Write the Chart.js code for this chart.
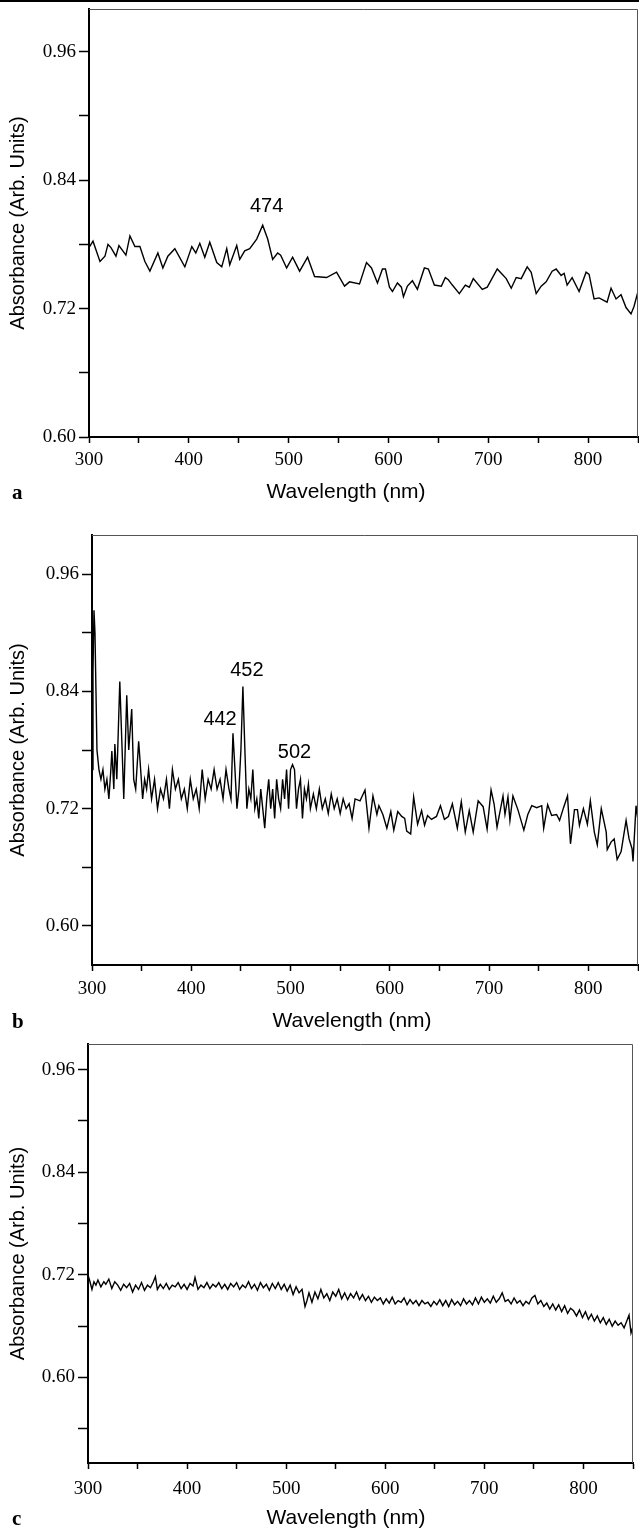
<!DOCTYPE html>
<html>
<head>
<meta charset="utf-8">
<script src="https://cdn.jsdelivr.net/npm/chart.js@4.4.1/dist/chart.umd.min.js"></script>
<style>
  body { margin: 0; background: #fff; }
  #page { position: relative; width: 639px; height: 1537px; overflow: hidden; }
  #rule { position: absolute; left: 0; top: 0; width: 639px; height: 2px; background: #000; }
  canvas { position: absolute; left: 0; }
</style>
</head>
<body>
<div id="page">
  <div id="rule"></div>
  <canvas id="chartA"></canvas>
  <canvas id="chartB"></canvas>
  <canvas id="chartC"></canvas>
</div>
<script>
// Axis ticks shared by the three panels
const xTicks = [300, 350, 400, 450, 500, 550, 600, 650, 700, 750, 800, 850];
const xLabels = [300, 400, 500, 600, 700, 800];
const yTicksAB = [0.60, 0.66, 0.72, 0.78, 0.84, 0.90, 0.96];
const yTicksC = [0.54, 0.60, 0.66, 0.72, 0.78, 0.84, 0.90, 0.96];
const yLabels = [0.60, 0.72, 0.84, 0.96];

// Panel a
const aWavelength = [300, 304, 311, 316, 319, 322, 327, 330, 337, 341, 346, 351, 356, 361, 369, 374, 379, 386, 396, 403,
  407, 411, 416, 421, 428, 433, 438, 441, 448, 451, 456, 461, 468, 474, 479, 484, 489, 492, 498, 504,
  511, 519, 526, 538, 548, 556, 561, 571, 578, 583, 589, 594, 597, 601, 604, 609, 613, 615, 619, 624,
  629, 636, 640, 646, 653, 657, 660, 664, 671, 677, 681, 685, 694, 699, 709, 713, 718, 723, 728, 733,
  739, 743, 748, 753, 758, 764, 768, 773, 776, 779, 784, 791, 798, 801, 806, 811, 819, 823, 828, 833,
  838, 843, 846, 850];
const aAbsorbance = [0.777, 0.783, 0.764, 0.769, 0.780, 0.777, 0.769, 0.779, 0.770, 0.788, 0.778, 0.778, 0.764, 0.755, 0.772, 0.758, 0.769, 0.776, 0.759, 0.778,
  0.772, 0.781, 0.768, 0.782, 0.763, 0.759, 0.776, 0.761, 0.779, 0.766, 0.774, 0.776, 0.785, 0.798, 0.785, 0.766, 0.772, 0.770, 0.758, 0.768,
  0.755, 0.768, 0.750, 0.749, 0.754, 0.741, 0.745, 0.743, 0.763, 0.758, 0.744, 0.757, 0.757, 0.740, 0.736, 0.744, 0.740, 0.731, 0.741, 0.746,
  0.738, 0.758, 0.757, 0.742, 0.741, 0.749, 0.747, 0.742, 0.734, 0.742, 0.740, 0.748, 0.738, 0.740, 0.757, 0.753, 0.748, 0.739, 0.749, 0.748,
  0.759, 0.754, 0.734, 0.741, 0.745, 0.755, 0.757, 0.751, 0.753, 0.742, 0.749, 0.736, 0.754, 0.752, 0.729, 0.730, 0.726, 0.739, 0.729, 0.733,
  0.721, 0.715, 0.722, 0.736];

// Panel b
const bWavelength = [300, 301, 302, 303, 304, 305, 307, 309, 311, 313, 315, 317, 319, 320, 322, 323, 325, 328, 330, 332,
  335, 337, 340, 342, 344, 347, 349, 351, 353, 355, 357, 360, 363, 366, 369, 372, 375, 378, 381, 384,
  387, 390, 393, 396, 399, 402, 405, 408, 411, 414, 417, 420, 423, 426, 429, 432, 435, 438, 440, 442,
  444, 446, 448, 450, 452, 454, 456, 458, 460, 462, 464, 466, 468, 470, 472, 474, 476, 478, 480, 482,
  484, 486, 488, 490, 492, 494, 496, 498, 500, 502, 504, 506, 508, 510, 512, 514, 516, 518, 520, 523,
  526, 529, 532, 535, 538, 541, 544, 547, 550, 553, 556, 559, 562, 565, 570, 575, 579, 583, 587, 589,
  593, 597, 601, 604, 608, 612, 615, 617, 621, 624, 628, 632, 635, 638, 642, 647, 651, 655, 659, 663,
  668, 672, 676, 680, 684, 689, 694, 698, 702, 705, 708, 714, 716, 719, 721, 724, 729, 735, 739, 743,
  748, 753, 755, 759, 763, 768, 771, 775, 779, 782, 786, 789, 791, 795, 799, 802, 806, 809, 813, 818,
  819, 823, 826, 829, 833, 838, 841, 844, 845, 848, 850];
const bAbsorbance = [0.76, 0.86, 0.923, 0.90, 0.84, 0.78, 0.76, 0.75, 0.76, 0.74, 0.75, 0.73, 0.76, 0.779, 0.74, 0.786, 0.75, 0.85, 0.79, 0.73,
  0.836, 0.78, 0.822, 0.75, 0.74, 0.789, 0.76, 0.73, 0.75, 0.74, 0.76, 0.73, 0.75, 0.72, 0.74, 0.73, 0.75, 0.72, 0.76, 0.74,
  0.75, 0.73, 0.74, 0.72, 0.75, 0.73, 0.74, 0.72, 0.76, 0.73, 0.75, 0.74, 0.76, 0.74, 0.75, 0.73, 0.76, 0.74, 0.73, 0.797,
  0.76, 0.72, 0.74, 0.78, 0.845, 0.78, 0.72, 0.74, 0.73, 0.76, 0.72, 0.73, 0.71, 0.74, 0.72, 0.70, 0.73, 0.75, 0.72, 0.74,
  0.71, 0.75, 0.73, 0.72, 0.75, 0.73, 0.76, 0.72, 0.76, 0.765, 0.76, 0.72, 0.74, 0.75, 0.71, 0.74, 0.73, 0.745, 0.72, 0.735,
  0.72, 0.74, 0.72, 0.73, 0.715, 0.735, 0.72, 0.73, 0.715, 0.73, 0.72, 0.725, 0.71, 0.73, 0.728, 0.739, 0.700, 0.733, 0.714, 0.723,
  0.714, 0.700, 0.717, 0.698, 0.717, 0.712, 0.710, 0.697, 0.694, 0.732, 0.704, 0.718, 0.703, 0.713, 0.709, 0.712, 0.723, 0.709, 0.712, 0.725,
  0.700, 0.727, 0.696, 0.718, 0.696, 0.728, 0.722, 0.699, 0.739, 0.725, 0.701, 0.733, 0.714, 0.732, 0.708, 0.733, 0.719, 0.698, 0.714, 0.723,
  0.721, 0.723, 0.700, 0.724, 0.713, 0.714, 0.708, 0.721, 0.733, 0.684, 0.719, 0.719, 0.703, 0.720, 0.704, 0.728, 0.696, 0.683, 0.720, 0.696,
  0.678, 0.686, 0.689, 0.668, 0.676, 0.708, 0.689, 0.679, 0.666, 0.723, 0.708];

// Panel c
const cWavelength = [300, 302, 304, 306, 308, 310, 313, 316, 318, 321, 324, 327, 330, 333, 336, 339, 342, 345, 348, 351,
  354, 357, 360, 363, 366, 368, 370, 373, 376, 379, 382, 385, 388, 391, 394, 397, 400, 403, 406, 408,
  411, 414, 417, 420, 423, 426, 429, 432, 435, 438, 441, 444, 447, 450, 453, 456, 459, 462, 465, 468,
  471, 474, 477, 480, 483, 486, 489, 492, 495, 498, 501, 504, 507, 510, 513, 516, 519, 521, 523, 526,
  529, 532, 535, 538, 541, 544, 547, 550, 553, 556, 559, 562, 565, 568, 571, 574, 577, 580, 583, 586,
  589, 592, 595, 598, 601, 604, 607, 610, 613, 616, 619, 622, 625, 628, 631, 634, 637, 640, 643, 646,
  649, 652, 655, 658, 661, 664, 667, 670, 673, 676, 679, 682, 685, 688, 691, 694, 697, 700, 703, 706,
  709, 712, 715, 718, 721, 724, 727, 730, 733, 736, 739, 742, 745, 748, 751, 754, 757, 760, 763, 766,
  769, 772, 775, 778, 781, 784, 787, 790, 793, 796, 799, 802, 805, 808, 811, 814, 817, 820, 823, 826,
  829, 832, 835, 838, 841, 844, 846, 848, 850];
const cAbsorbance = [0.720, 0.712, 0.703, 0.712, 0.708, 0.714, 0.706, 0.712, 0.709, 0.715, 0.704, 0.712, 0.708, 0.702, 0.709, 0.705, 0.710, 0.700, 0.708, 0.703,
  0.711, 0.702, 0.708, 0.705, 0.712, 0.718, 0.703, 0.709, 0.704, 0.710, 0.703, 0.708, 0.706, 0.711, 0.704, 0.709, 0.703, 0.710, 0.707, 0.717,
  0.703, 0.708, 0.705, 0.711, 0.704, 0.709, 0.706, 0.711, 0.704, 0.709, 0.703, 0.710, 0.706, 0.711, 0.703, 0.708, 0.705, 0.712, 0.704, 0.709,
  0.702, 0.711, 0.705, 0.709, 0.702, 0.710, 0.704, 0.711, 0.703, 0.709, 0.701, 0.708, 0.697, 0.706, 0.699, 0.703, 0.683, 0.690, 0.699, 0.688,
  0.700, 0.692, 0.703, 0.693, 0.698, 0.690, 0.700, 0.695, 0.703, 0.692, 0.699, 0.691, 0.698, 0.693, 0.700, 0.691, 0.697, 0.690, 0.695, 0.688,
  0.694, 0.690, 0.693, 0.686, 0.692, 0.687, 0.694, 0.686, 0.690, 0.688, 0.693, 0.685, 0.691, 0.686, 0.690, 0.684, 0.690, 0.686, 0.688, 0.683,
  0.689, 0.685, 0.691, 0.684, 0.690, 0.683, 0.691, 0.685, 0.689, 0.684, 0.692, 0.686, 0.690, 0.685, 0.693, 0.686, 0.694, 0.688, 0.692, 0.687,
  0.695, 0.688, 0.692, 0.699, 0.689, 0.691, 0.686, 0.693, 0.687, 0.690, 0.684, 0.689, 0.686, 0.693, 0.696, 0.686, 0.690, 0.683, 0.687, 0.680,
  0.686, 0.679, 0.685, 0.677, 0.684, 0.675, 0.681, 0.678, 0.672, 0.679, 0.670, 0.677, 0.668, 0.674, 0.666, 0.672, 0.664, 0.670, 0.662, 0.668,
  0.660, 0.666, 0.661, 0.664, 0.658, 0.667, 0.673, 0.652, 0.660];

// Peak annotations (text, wavelength, absorbance of the label centre)
const aPeakText = ['474'];
const aPeakX = [478];
const aPeakY = [0.815];
const bPeakText = ['452', '442', '502'];
const bPeakX = [456, 429, 504];
const bPeakY = [0.861, 0.811, 0.777];

const near = (list, v) => list.some(l => Math.abs(l - v) < 1e-6);

// Draws the light top/right frame, x title, panel letter and peak labels
const panelDecor = {
  id: 'panelDecor',
  afterDraw(chart, args, o) {
    const { ctx, chartArea: a, scales: { x, y } } = chart;
    ctx.save();
    ctx.strokeStyle = '#555';
    ctx.lineWidth = 1;
    ctx.beginPath();
    ctx.moveTo(a.left, a.top + 0.5);
    ctx.lineTo(a.right - 0.5, a.top + 0.5);
    ctx.lineTo(a.right - 0.5, a.bottom);
    ctx.stroke();

    ctx.fillStyle = '#000';
    ctx.textAlign = 'center';
    ctx.textBaseline = 'middle';
    ctx.font = '21px "Liberation Sans"';
    ctx.fillText('Wavelength (nm)', o.titleX, a.bottom + o.titleDy);

    ctx.textAlign = 'left';
    ctx.font = 'bold 21px "Liberation Serif"';
    ctx.fillText(o.letter, 12, a.bottom + o.titleDy + 2);

    ctx.textAlign = 'center';
    ctx.font = '20px "Liberation Sans"';
    o.peakText.forEach((t, i) => {
      ctx.fillText(t, x.getPixelForValue(o.peakX[i]), y.getPixelForValue(o.peakY[i]));
    });
    ctx.restore();
  }
};

function buildPanel(id, wl, abs, p) {
  const canvas = document.getElementById(id);
  canvas.width = 639;
  canvas.height = p.height;
  canvas.style.top = p.top + 'px';
  const points = wl.map((w, i) => ({ x: w, y: abs[i] }));

  return new Chart(canvas, {
    type: 'line',
    data: {
      datasets: [{
        data: points,
        borderColor: '#000',
        borderWidth: 1.4,
        pointRadius: 0,
        tension: 0,
        fill: false
      }]
    },
    options: {
      responsive: false,
      animation: false,
      layout: { padding: { top: p.padTop, right: p.padRight, left: 0, bottom: 0 } },
      plugins: {
        legend: { display: false },
        tooltip: { enabled: false },
        panelDecor: {
          letter: p.letter, titleX: p.titleX, titleDy: p.titleDy,
          peakText: p.peakText, peakX: p.peakX, peakY: p.peakY
        }
      },
      scales: {
        x: {
          type: 'linear',
          min: 300,
          max: 850,
          afterBuildTicks: s => { s.ticks = xTicks.map(v => ({ value: v })); },
          afterFit: s => { s.height = p.xAxisH; s.paddingLeft = 0; s.paddingRight = 0; },
          ticks: {
            autoSkip: false,
            maxRotation: 0,
            padding: p.xPad,
            color: '#000',
            font: { family: 'Liberation Serif', size: 19 },
            callback: v => near(xLabels, v) ? String(v) : ''
          },
          grid: { drawOnChartArea: false, drawTicks: true, tickLength: 6, tickColor: '#000', tickWidth: 1.5 },
          border: { display: true, color: '#000', width: 2 }
        },
        y: {
          min: p.yMin,
          max: p.yMax,
          afterBuildTicks: s => { s.ticks = p.yTicks.map(v => ({ value: v })); },
          afterFit: s => { s.width = p.left; s.paddingTop = 0; s.paddingBottom = 0; },
          ticks: {
            padding: 3,
            color: '#000',
            font: { family: 'Liberation Serif', size: 19 },
            callback: v => near(yLabels, v) ? v.toFixed(2) : ''
          },
          grid: { drawOnChartArea: false, drawTicks: true, tickLength: 10, tickColor: '#000', tickWidth: 1.5 },
          border: { display: true, color: '#000', width: 2 },
          title: {
            display: true,
            text: 'Absorbance (Arb. Units)',
            color: '#000',
            font: { family: 'Liberation Sans', size: 20 },
            padding: { top: 6, bottom: 0 }
          }
        }
      }
    },
    plugins: [panelDecor]
  });
}

buildPanel('chartA', aWavelength, aAbsorbance, {
  top: 0, height: 507, padTop: 9, padRight: 1, left: 89, xAxisH: 70, xPad: 6,
  yMin: 0.60, yMax: 1.0, yTicks: yTicksAB,
  letter: 'a', titleX: 346, titleDy: 55,
  peakText: aPeakText, peakX: aPeakX, peakY: aPeakY
});

buildPanel('chartB', bWavelength, bAbsorbance, {
  top: 500, height: 540, padTop: 35, padRight: 1, left: 92, xAxisH: 75, xPad: 7,
  yMin: 0.56, yMax: 1.0, yTicks: yTicksAB,
  letter: 'b', titleX: 352, titleDy: 56,
  peakText: bPeakText, peakX: bPeakX, peakY: bPeakY
});

buildPanel('chartC', cWavelength, cAbsorbance, {
  top: 1030, height: 503, padTop: 14, padRight: 6, left: 88, xAxisH: 70, xPad: 9,
  yMin: 0.50, yMax: 0.99, yTicks: yTicksC,
  letter: 'c', titleX: 346, titleDy: 55,
  peakText: [], peakX: [], peakY: []
});
</script>
</body>
</html>
